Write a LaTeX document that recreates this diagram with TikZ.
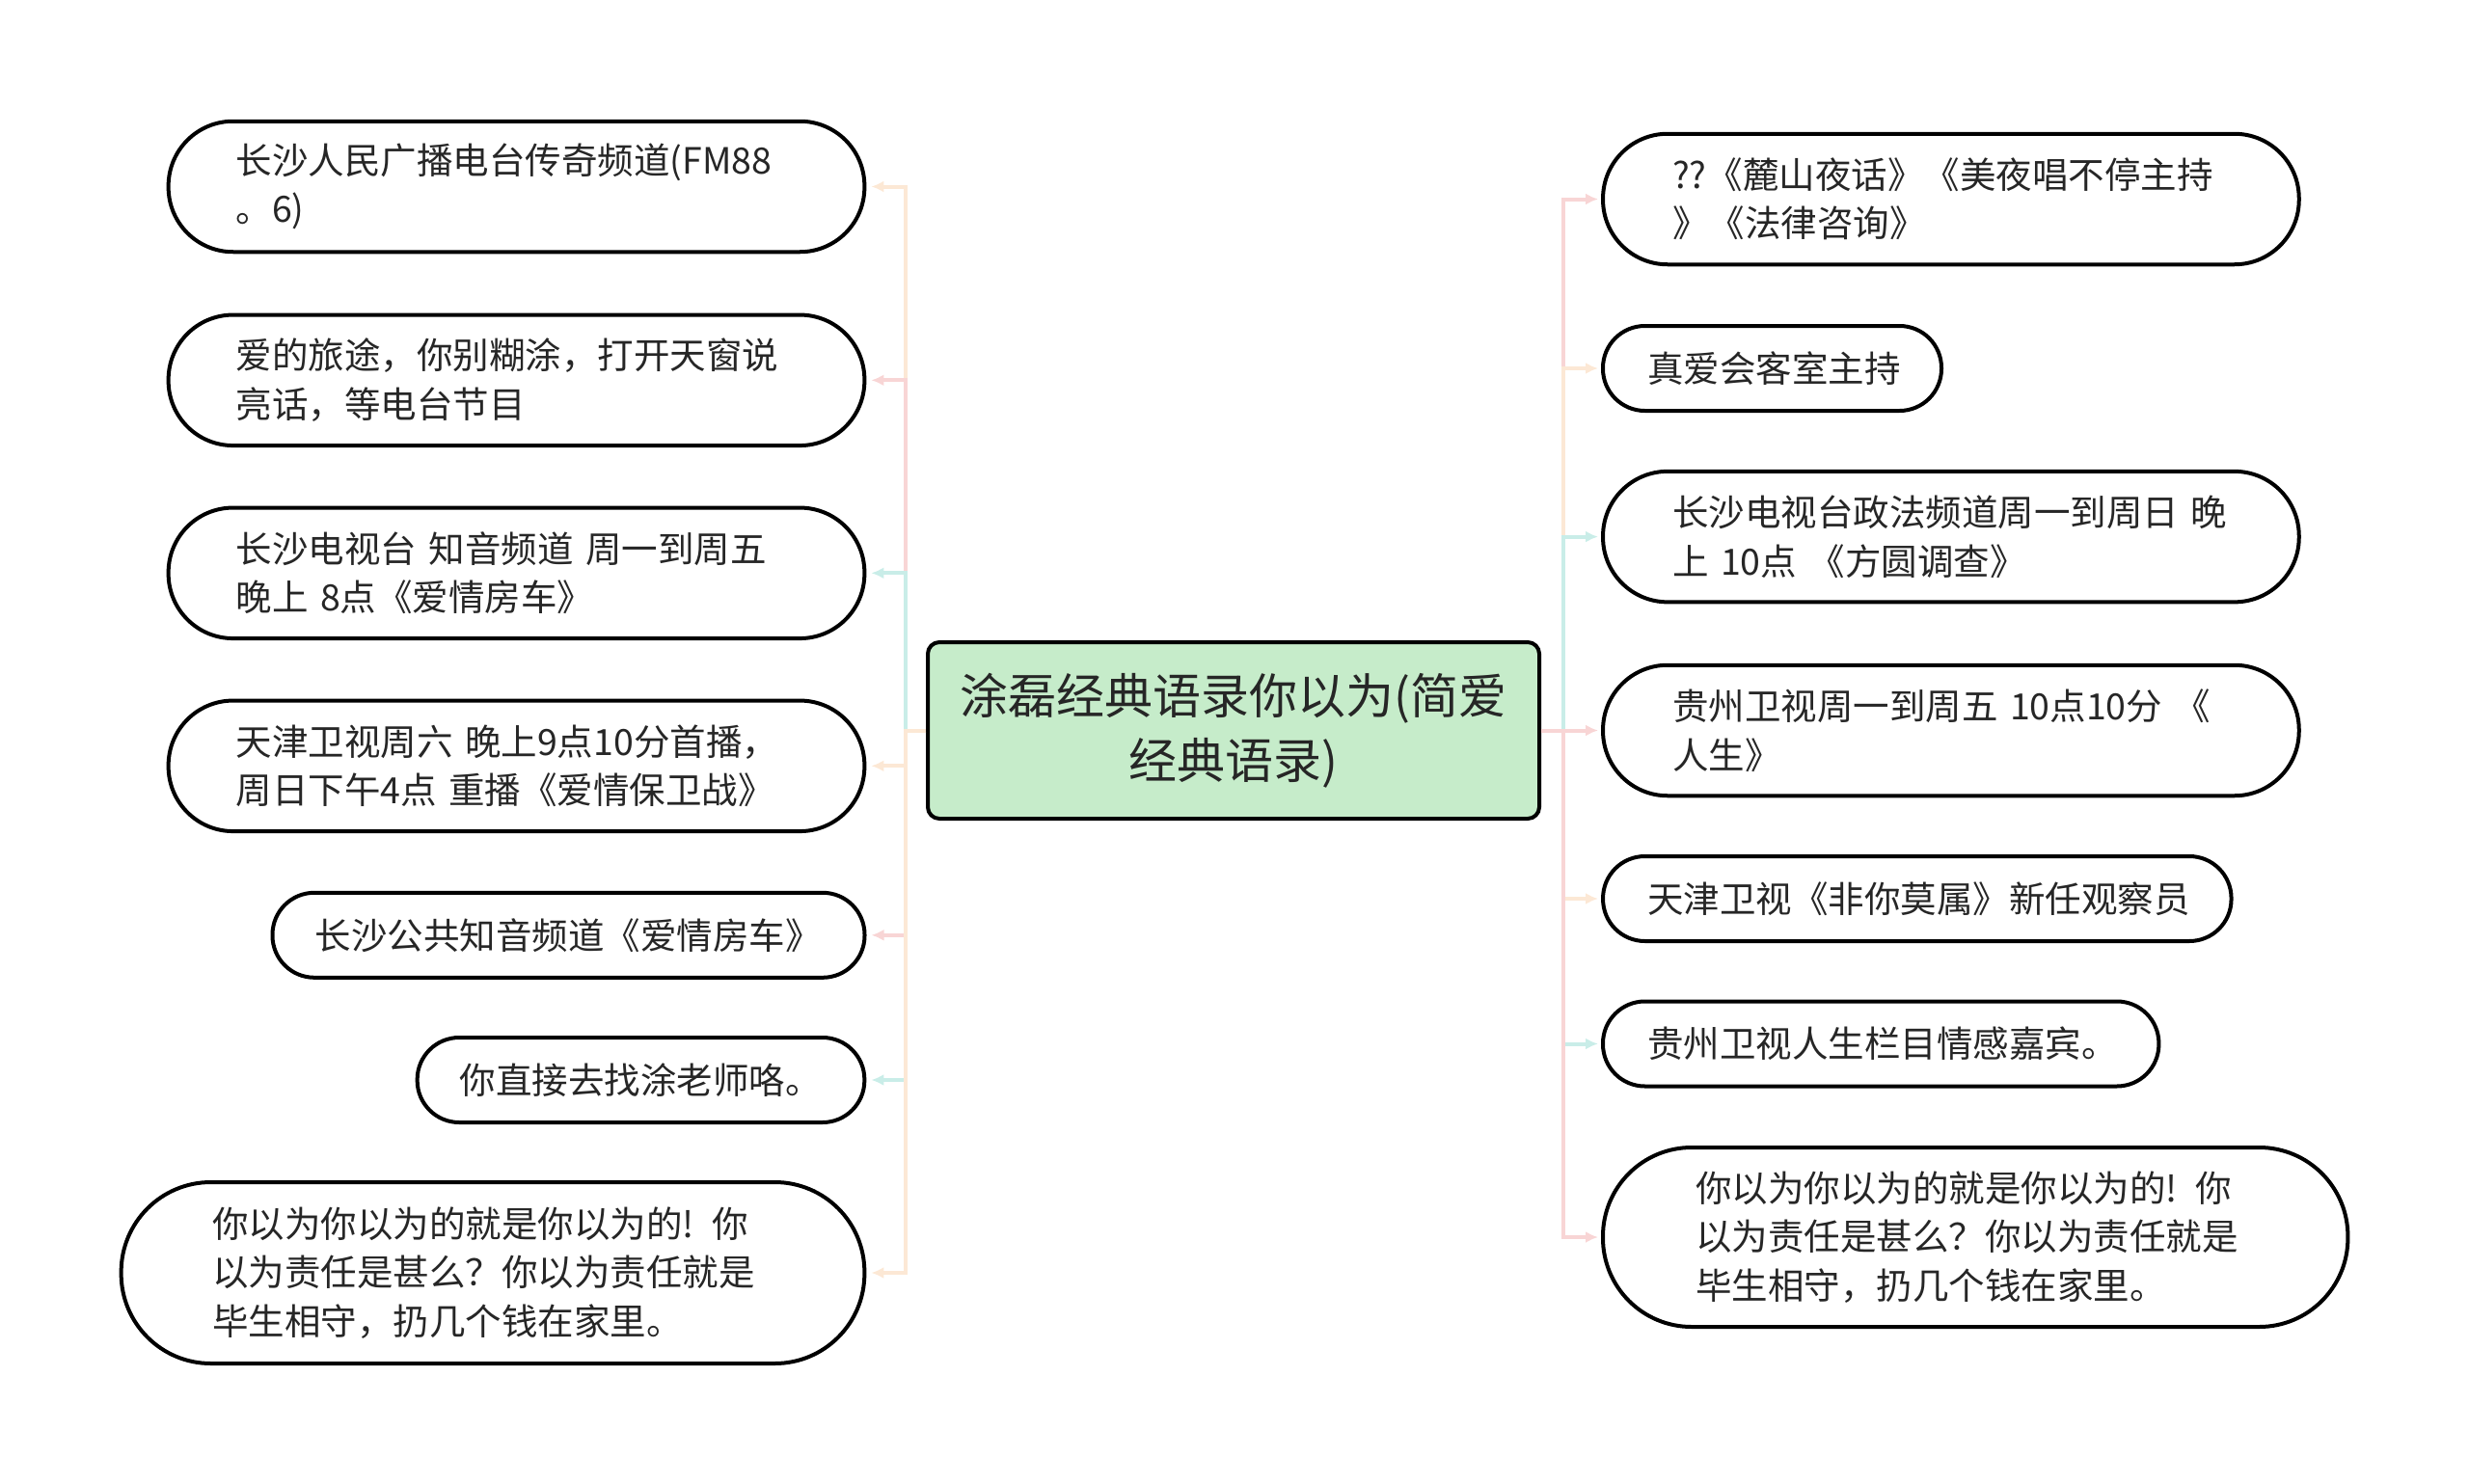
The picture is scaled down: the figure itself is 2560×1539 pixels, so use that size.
\documentclass[tikz,border=0pt]{standalone}
\usepackage{fontspec}
\setmainfont{Noto Sans CJK SC}
\usetikzlibrary{arrows.meta}
\definecolor{cBeige}{HTML}{FCE8D5}
\definecolor{cPink}{HTML}{F8D5D5}
\definecolor{cTeal}{HTML}{C9EDE8}
\definecolor{cGreen}{HTML}{C6ECCA}
\definecolor{cText}{HTML}{262626}
\tikzset{
  leaf/.style={draw=black, line width=4pt, fill=white, align=left, inner ysep=0pt,
    font=\fontsize{37.5}{50.6}\selectfont, text=cText},
  rootbox/.style={draw=black, line width=4pt, fill=cGreen, align=center, inner sep=0pt,
    minimum width=634pt, minimum height=183pt, rounded corners=12pt,
    font=\fontsize{50}{67}\selectfont, text=cText},
  connL/.style={line width=4pt, -{Latex[length=13pt,width=12pt]}, shorten >=5pt},
  connR/.style={line width=4pt, -{Latex[length=13pt,width=12pt]}, shorten >=3pt},
}
\begin{document}
\begin{tikzpicture}[x=1pt,y=-1pt]
\useasboundingbox (0,0) rectangle (2560,1539);

\node[rootbox] (C) at (1279,757.5) {涂磊经典语录你以为(简爱\\经典语录)};

% left
\node[leaf, minimum height=135.5pt, text width=581.7pt, inner xsep=70pt, rounded corners=67pt] (L1) at (535.5,193.5) {长沙人民广播电台传奇频道(FM88\\。6)};
\node[leaf, minimum height=135.5pt, text width=581.7pt, inner xsep=70pt, rounded corners=67pt] (L2) at (535.5,394.3) {爱的旅途，你别糊涂，打开天窗说\\亮话，等电台节目};
\node[leaf, minimum height=135.5pt, text width=581.7pt, inner xsep=70pt, rounded corners=67pt] (L3) at (535.5,594.3) {长沙电视台 知音频道 周一到周五\\晚上 8点《爱情房车》};
\node[leaf, minimum height=135.5pt, text width=581.7pt, inner xsep=70pt, rounded corners=67pt] (L4) at (535.5,794.3) {天津卫视周六 晚上9点10分首播，\\周日下午4点 重播《爱情保卫战》};
\node[leaf, minimum height=88pt, text width=526pt, inner xsep=44pt, rounded corners=43.5pt] (L5) at (589.5,969.8) {长沙公共知音频道《爱情房车》};
\node[leaf, minimum height=88pt, text width=375.7pt, inner xsep=44pt, rounded corners=43.5pt] (L6) at (664.5,1120) {你直接去找涂老师咯。};
\node[leaf, minimum height=188pt, text width=581.3pt, inner xsep=94.7pt, rounded corners=93pt] (L7) at (511,1320) {你以为你以为的就是你以为的! 你\\以为责任是甚么？你以为责任就是\\毕生相守，扔几个钱在家里。};

% right
\node[leaf, minimum height=135.5pt, text width=577.7pt, inner xsep=72pt, rounded corners=67pt] (R1) at (2022.9,206.5) {??《麓山夜话》《美夜唱不停主持\\》《法律咨询》};
\node[leaf, minimum height=88pt, text width=259pt, inner xsep=46pt, rounded corners=43.5pt] (R2) at (1837.5,382) {真爱会客室主持};
\node[leaf, minimum height=135.5pt, text width=577.7pt, inner xsep=72pt, rounded corners=67pt] (R3) at (2022.9,556.6) {长沙电视台政法频道周一到周日 晚\\上 10点 《方圆调查》};
\node[leaf, minimum height=135.5pt, text width=577.7pt, inner xsep=72pt, rounded corners=67pt] (R4) at (2022.9,757.5) {贵州卫视周一到周五 10点10分 《\\人生》};
\node[leaf, minimum height=88pt, text width=559.5pt, inner xsep=46pt, rounded corners=43.5pt] (R5) at (1987.8,932) {天津卫视《非你莫属》新任观察员};
\node[leaf, minimum height=88pt, text width=484.4pt, inner xsep=46pt, rounded corners=43.5pt] (R6) at (1950.2,1082.5) {贵州卫视人生栏目情感嘉宾。};
\node[leaf, minimum height=186pt, text width=580.4pt, inner xsep=96pt, rounded corners=92pt] (R7) at (2048.2,1283) {你以为你以为的就是你以为的! 你\\以为责任是甚么？你以为责任就是\\毕生相守，扔几个钱在家里。};

\coordinate (TL) at (939,757.5);
\coordinate (TR) at (1621,757.5);

\draw[connL, cBeige] (C.west) -- (TL) |- (L1.east);
\draw[connL, cPink]  (C.west) -- (TL) |- (L2.east);
\draw[connL, cTeal]  (C.west) -- (TL) |- (L3.east);
\draw[connL, cBeige] (C.west) -- (TL) |- (L4.east);
\draw[connL, cPink]  (C.west) -- (TL) |- (L5.east);
\draw[connL, cTeal]  (C.west) -- (TL) |- (L6.east);
\draw[connL, cBeige] (C.west) -- (TL) |- (L7.east);

\draw[connR, cPink]  (C.east) -- (TR) |- (R1.west);
\draw[connR, cBeige] (C.east) -- (TR) |- (R2.west);
\draw[connR, cTeal]  (C.east) -- (TR) |- (R3.west);
\draw[connR, cPink]  (C.east) -- (TR) |- (R4.west);
\draw[connR, cBeige] (C.east) -- (TR) |- (R5.west);
\draw[connR, cTeal]  (C.east) -- (TR) |- (R6.west);
\draw[connR, cPink]  (C.east) -- (TR) |- (R7.west);
\end{tikzpicture}
\end{document}
